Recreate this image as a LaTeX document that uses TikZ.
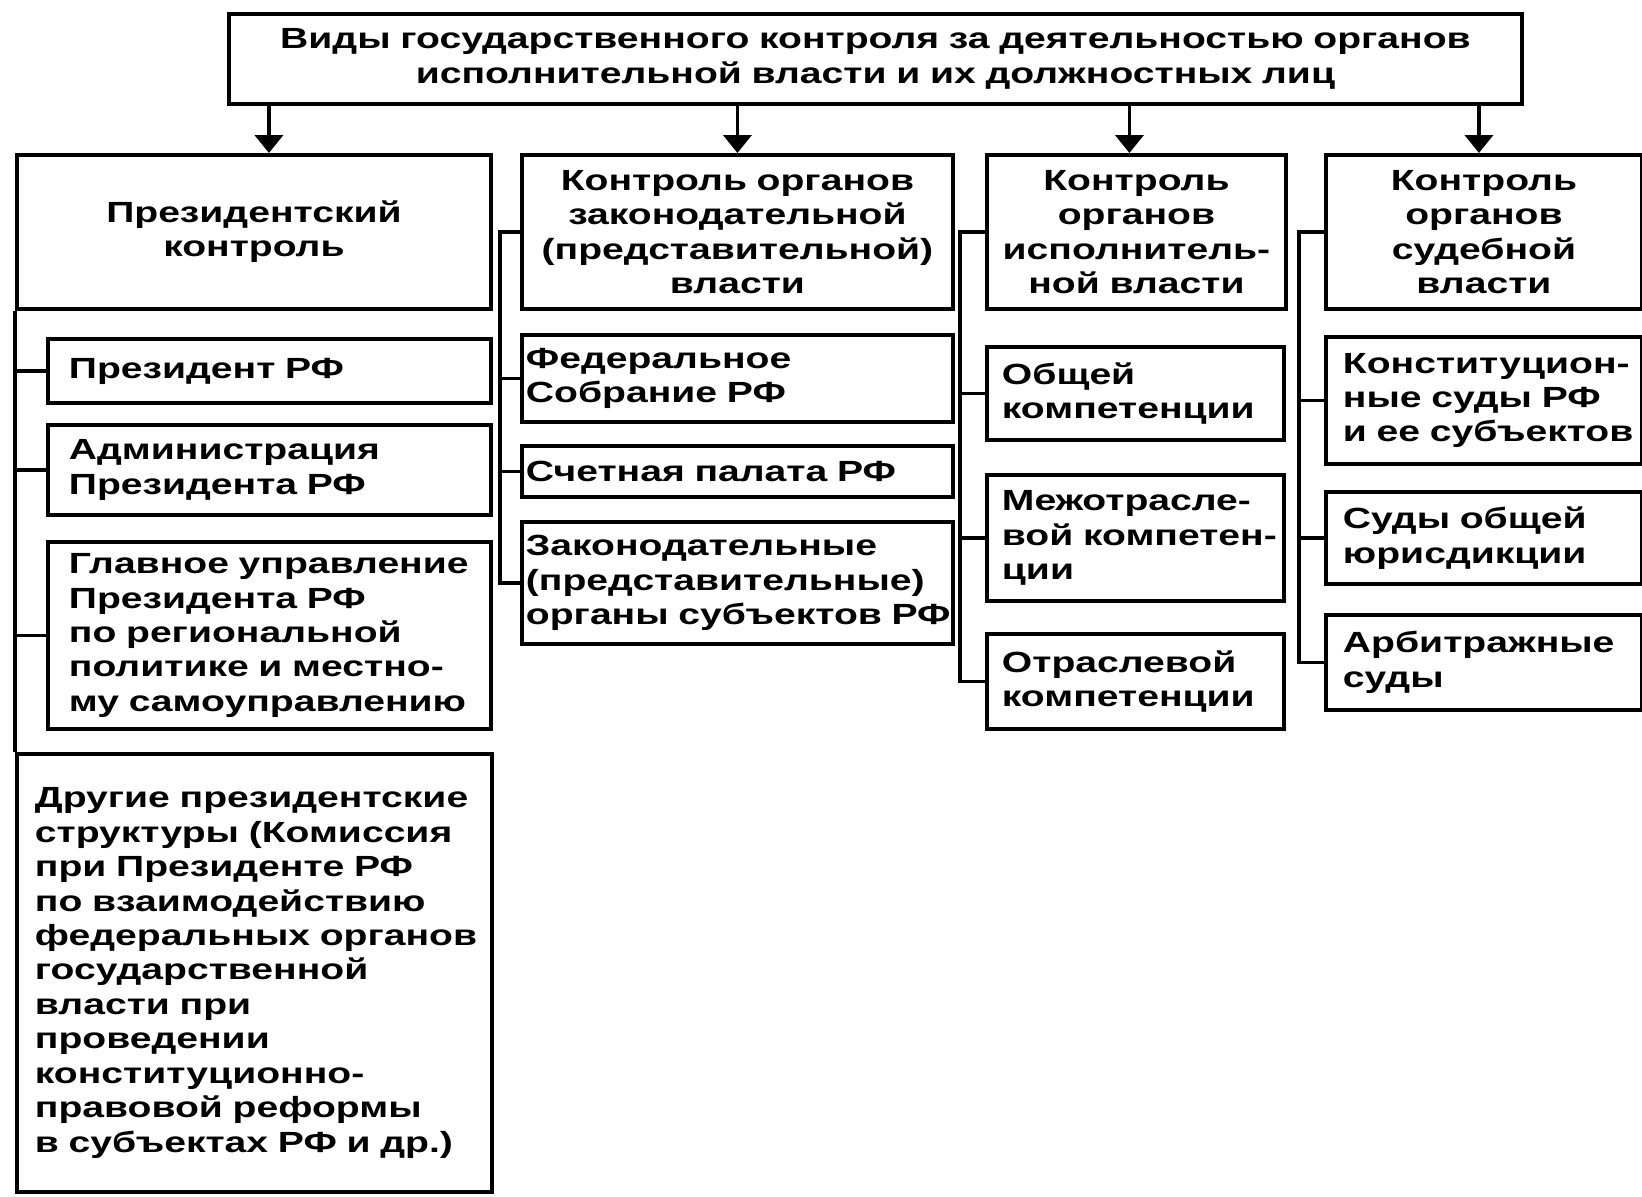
\documentclass[tikz,border=0pt]{standalone}
\usepackage{fontspec}
\setmainfont{Liberation Sans}[FakeStretch=1.34]
\usetikzlibrary{arrows.meta}
\tikzset{
  box/.style={draw, line width=1.1pt, anchor=north west, inner ysep=0pt,
    font=\fontsize{8.3}{9.8}\selectfont\bfseries,
    execute at begin node={\exhyphenpenalty=10000\relax}},
  head/.style={box, align=center, inner xsep=1mm, minimum height=15.4mm},
  leaf/.style={box, align=left},
  link/.style={line width=1.1pt},
  arr/.style={line width=1.1pt, -{Triangle[width=2.8mm,length=1.8mm]}}
}
\begin{document}
\begin{tikzpicture}[x=0.1mm, y=-0.1mm]
  \useasboundingbox (0,0) rectangle (1642,1196);
  % Main box
  \node[head, text width=127.3mm, minimum height=9mm] (top) at (227,12)
    {Виды государственного контроля за деятельностью органов\\
     исполнительной власти и их должностных лиц};
  % Four kinds of control
  \node[head, text width=45.4mm] (h1) at (15,153) {Президентский\\контроль};
  \node[head, text width=41.1mm] (h2) at (520,153)
    {Контроль~органов\\законодательной\\(представительной)\\власти};
  \node[head, text width=27.9mm] (h3) at (985,153)
    {Контроль\\органов\\исполнитель-\\ной~власти};
  \node[head, text width=29.6mm] (h4) at (1324,153)
    {Контроль\\органов\\судебной\\власти};
  \foreach \h/\dx in {h1/1.5mm, h2/0mm, h3/-0.7mm, h4/-0.5mm}
    \draw[arr] ([xshift=\dx]\h.north |- top.south) -- ([xshift=\dx]\h.north);

  % Presidential control
  \tikzset{leaf1/.style={leaf, inner xsep=2.1mm, text width=40.1mm}}
  \node[leaf1, minimum height=6.4mm] (p1) at (46,337) {Президент~РФ};
  \node[leaf1, minimum height=9mm] (p2) at (46,423) {Администрация\\Президента~РФ};
  \node[leaf1, minimum height=18.7mm] (p3) at (46,540)
    {Главное~управление\\Президента~РФ\\по~региональной\\политике~и~местно-\\му~самоуправлению};
  \node[leaf, inner xsep=1.8mm, text width=43.9mm, minimum height=43.8mm] (p4) at (15,752)
    {Другие~президентские\\структуры~(Комиссия\\при~Президенте~РФ\\по~взаимодействию\\федеральных~органов\\государственной\\власти~при\\проведении\\конституционно-\\правовой~реформы\\в~субъектах~РФ~и~др.)};
  \draw[link] (h1.south west) -- (p4.north west);
  \foreach \c in {p1,p2,p3} \draw[link] (h1.west |- \c.west) -- (\c.west);

  % Legislative control
  \tikzset{leaf2/.style={leaf, inner xsep=0.4mm, text width=42.3mm}}
  \node[leaf2, minimum height=8.7mm] (z1) at (520,333) {Федеральное\\Собрание~РФ};
  \node[leaf2, minimum height=5.1mm] (z2) at (520,444) {Счетная~палата~РФ};
  \node[leaf2, minimum height=12.2mm] (z3) at (520,520)
    {Законодательные\\(представительные)\\органы~субъектов~РФ};
  \draw[link] (h2.west) -- ++(-20,0) coordinate (t2) |- (z3.west);
  \foreach \c in {z1,z2} \draw[link] (t2 |- \c.west) -- (\c.west);

  % Executive control
  \tikzset{leaf3/.style={leaf, inner xsep=1.5mm, text width=26.7mm}}
  \node[leaf3, minimum height=9.3mm] (e1) at (985,345) {Общей\\компетенции};
  \node[leaf3, minimum height=12.6mm] (e2) at (985,473) {Межотрасле-\\вой~компетен-\\ции};
  \node[leaf3, minimum height=9.5mm] (e3) at (985,632) {Отраслевой\\компетенции};
  \draw[link] (h3.west) -- ++(-25,0) coordinate (t3) |- (e3.west);
  \foreach \c in {e1,e2} \draw[link] (t3 |- \c.west) -- (\c.west);

  % Judicial control
  \tikzset{leaf4/.style={leaf, inner xsep=1.7mm, text width=28.2mm}}
  \node[leaf4, minimum height=12.7mm] (s1) at (1324,335)
    {Конституцион-\\ные~суды~РФ\\и~ее~субъектов};
  \node[leaf4, minimum height=9.2mm] (s2) at (1324,490) {Суды~общей\\юрисдикции};
  \node[leaf4, minimum height=9.5mm] (s3) at (1324,613) {Арбитражные\\суды};
  \draw[link] (h4.west) -- ++(-25,0) coordinate (t4) |- (s3.west);
  \foreach \c in {s1,s2} \draw[link] (t4 |- \c.west) -- (\c.west);
\end{tikzpicture}
\end{document}
